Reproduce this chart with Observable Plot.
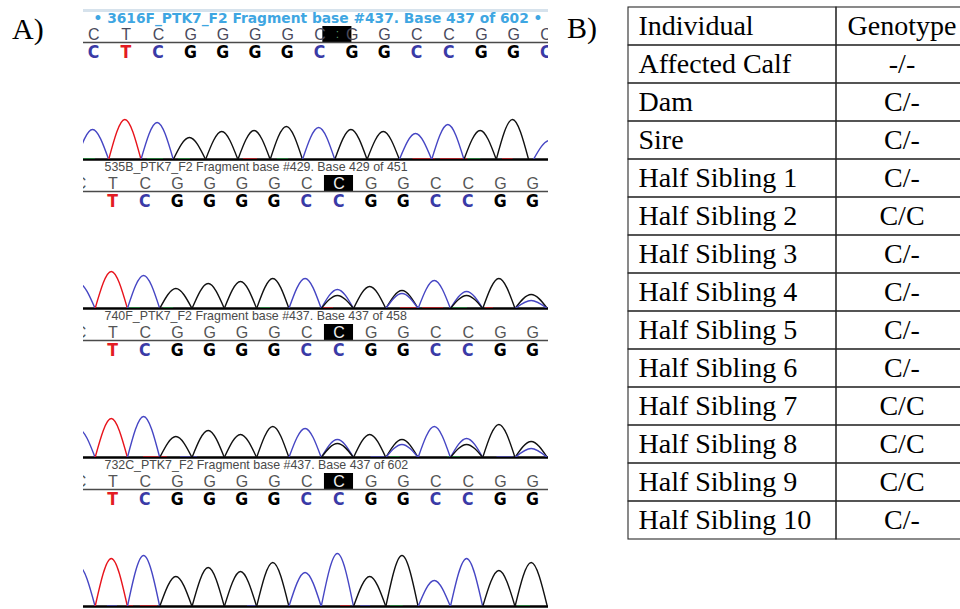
<!DOCTYPE html>
<html><head><meta charset="utf-8">
<script src="https://cdn.jsdelivr.net/npm/d3@7"></script>
<script src="https://cdn.jsdelivr.net/npm/@observablehq/plot@0.6"></script>
<style>
html,body{margin:0;padding:0;background:#fff;width:960px;height:609px;overflow:hidden;position:relative;}
#left{position:absolute;left:0;top:0;width:560px;}
#col1{position:absolute;left:627px;top:4px;width:210px;}
#col2{position:absolute;left:835px;top:4px;width:133px;}
svg{max-width:none !important;}
.lab{position:absolute;font-family:"Liberation Serif","Times New Roman",serif;font-size:30px;line-height:30px;color:#000;}
</style></head><body>
<div id="left"></div>
<div id="col1"></div>
<div id="col2"></div>
<div class="lab" style="left:12px;top:14px">A)</div>
<div class="lab" style="left:567px;top:13px">B)</div>
<script>
// ---------- Panel A data ----------
const samples = ["3616F", "535B", "740F", "732C"];
const fragmentLabels = [
  "\u2022 3616F_PTK7_F2 Fragment base #437. Base 437 of 602 \u2022",
  "535B_PTK7_F2 Fragment base #429. Base 429 of 451",
  "740F_PTK7_F2 Fragment base #437. Base 437 of 458",
  "732C_PTK7_F2 Fragment base #437. Base 437 of 602"
];
const labelStart = [0.31, 0.65, 0.65, 0.65];
// called bases (thin row) and their first position (in base-spacing units)
const calledSeq = ["CTCGGGGCGGCCGGC", "CTCGGGGCCGGCCGG", "CTCGGGGCCGGCCGG", "CTCGGGGCCGGCCGG"];
const calledStart = [0.32, -0.09, -0.09, -0.09];
const calledHighlight = [-1, 8, 8, 8];
// bold coloured base row
const boldSeq = ["CTCGGGGCGGCCGGC", "TCGGGGCCGGCCGG", "TCGGGGCCGGCCGG", "TCGGGGCCGGCCGG"];
const boldStart = [0.31, 0.9, 0.9, 0.9];
// black cursor box centre
const cursorPos = [7.86, 7.91, 7.91, 7.91];
// trace peaks: [base index, channel, height]
const traceStart = [0.28, 0.86, 0.86, 0.86];
const peaks3616F = [[0,"C",30],[1,"T",40],[2,"C",37],[3,"G",22],[4,"G",28],[5,"G",29],[6,"G",33],[7,"C",32],[8,"G",30],[9,"G",28],[10,"C",26],[11,"C",35],[12,"G",29],[13,"G",40],[14.15,"C",19]];
const peaks535B = [[-1,"C",25],[0,"T",37],[1,"C",33],[2,"G",20],[3,"G",25],[4,"G",27],[5,"G",30],[6,"C",30],[7,"C",19],[7,"G",13],[8,"G",22],[9,"G",18],[9,"C",15],[10,"C",28],[11,"C",17],[11,"G",13],[12,"G",30],[13,"G",14],[13,"C",8]];
const peaks740F = [[-1,"C",28],[0,"T",39],[1,"C",41],[2,"G",21],[3,"G",27],[4,"G",23],[5,"G",31],[6,"C",29],[7,"C",18],[7,"G",14],[8,"G",23],[9,"G",18],[9,"C",13],[10,"C",31],[11,"C",19],[11,"G",13],[12,"G",33],[13,"G",16],[13,"C",9]];
const peaks732C = [[-1,"C",40],[0,"T",48],[1,"C",51],[2,"G",30],[3,"G",39],[4,"G",35],[5,"G",44],[6,"C",34],[7,"C",53],[8,"G",30],[9,"G",51],[10,"C",26],[11,"C",48],[12,"G",36],[13,"G",44]];
const peaksBySample = [peaks3616F, peaks535B, peaks740F, peaks732C];
// low-level signal visible on the baseline: [sample, from, to, channel]
const baselineSignal = [
  ["3616F",0,0.37,"A"],["3616F",1.98,2.48,"A"],["3616F",2.94,3.31,"A"],["3616F",4.95,5.39,"T"],["3616F",6.0,6.35,"A"],["3616F",10.2,10.9,"T"],["3616F",11.05,11.9,"T"],["3616F",11.9,12.3,"A"],["3616F",12.97,13.3,"T"],
  ["535B",1.36,1.76,"A"],["535B",2.48,2.79,"A"],["535B",5.48,5.79,"A"],["535B",7.43,7.74,"T"],["535B",9.81,10.34,"T"],["535B",10.5,11.15,"T"],["535B",11.36,11.89,"A"],["535B",12.45,12.69,"T"],
  ["740F",1.86,2.6,"T"],["740F",3.0,3.53,"C"],["740F",8.9,9.4,"C"],["740F",9.5,9.8,"A"],["740F",11.27,11.67,"A"],["740F",12.8,13.3,"C"],
  ["732C",0.74,1.05,"C"],["732C",1.39,1.55,"T"],["732C",1.76,2.29,"T"],["732C",5.08,5.39,"C"],["732C",7.96,8.27,"T"],["732C",8.58,8.89,"C"],["732C",9.5,9.9,"A"],["732C",13.44,13.84,"A"]
];
const traceColor = {A: "#1f9a3c", C: "#4646c4", G: "#111111", T: "#e8141c"};
const letterColor = {A: "#1f9a3c", C: "#3a3aa6", G: "#000000", T: "#e31b23"};

// ---------- Panel B data ----------
const tableHeader = ["Individual", "Genotype"];
const individuals = ["Affected Calf","Dam","Sire","Half Sibling 1","Half Sibling 2","Half Sibling 3","Half Sibling 4","Half Sibling 5","Half Sibling 6","Half Sibling 7","Half Sibling 8","Half Sibling 9","Half Sibling 10"];
const genotypes = ["-/-","C/-","C/-","C/-","C/C","C/-","C/-","C/-","C/-","C/C","C/C","C/C","C/-"];

// ---------- layout constants (y in px above trace baseline, facet height 149) ----------
const FACET_H = 149;
const ROW = {label: 141, called: 125, rule: 117, bold: 107, boxLo: 117, boxHi: 133};
const X_MAX = 465 / 32.3;

// ---------- build tables ----------
const arches = [];
peaksBySample.forEach((list, s) => list.forEach(([i, ch, h], k) => {
  const c = traceStart[s] + i, id = s + "-" + k, col = traceColor[ch];
  arches.push({sample: samples[s], id, col, x: c - 0.5, y: 0},
              {sample: samples[s], id, col, x: c, y: h},
              {sample: samples[s], id, col, x: c + 0.5, y: 0});
}));
const called = samples.flatMap((s, si) => [...calledSeq[si]].map((b, i) => ({
  sample: s, x: calledStart[si] + i, base: b,
  fill: i === calledHighlight[si] ? "#eeeeee" : (si === 0 ? "#4a4a5c" : "#555555")})));
const bold = samples.flatMap((s, si) => [...boldSeq[si]].map((b, i) => ({
  sample: s, x: boldStart[si] + i, base: b, fill: letterColor[b]})));
const cursors = samples.map((s, si) => ({sample: s, x1: cursorPos[si] - 0.45, x2: cursorPos[si] + 0.45}));
const labelRows = samples.map((s, si) => ({sample: s, x: labelStart[si], text: fragmentLabels[si]}));
const noise = baselineSignal.map(([sample, x1, x2, ch]) => ({sample, x1, x2, col: traceColor[ch]}));

const left = Plot.plot({
  width: 560, height: 609,
  marginLeft: 83, marginRight: 12, marginTop: 10, marginBottom: 3,
  style: {background: "transparent", overflow: "visible", maxWidth: "none"},
  x: {domain: [0, X_MAX], axis: null},
  y: {domain: [0, FACET_H], axis: null},
  fy: {domain: samples, padding: 0, axis: null},
  color: {type: "identity"},
  marks: [
    Plot.ruleY(labelRows.slice(0, 1), {y: FACET_H, fy: "sample", stroke: "#d6e2ec", strokeWidth: 3}),
    Plot.text(labelRows.slice(0, 1), {x: "x", y: ROW.label - 0.5, fy: "sample", text: "text", textAnchor: "start",
      fill: "#3ea6e2", fontSize: 13.8, fontWeight: "bold", fontFamily: "DejaVu Sans, Verdana, sans-serif", clip: true}),
    Plot.text(labelRows.slice(1), {x: "x", y: ROW.label, fy: "sample", text: "text", textAnchor: "start",
      fill: "#4a4a4a", fontSize: 12.4, fontFamily: "Liberation Sans, Arial, sans-serif", clip: true}),
    Plot.rect(cursors, {x1: "x1", x2: "x2", y1: ROW.boxLo, y2: ROW.boxHi, fy: "sample", fill: "#000"}),
    Plot.text(called, {x: "x", y: ROW.called, fy: "sample", text: "base", fill: "fill",
      fontSize: 16, fontFamily: "Liberation Sans, Arial, sans-serif", clip: true}),
    Plot.text(cursors.slice(0, 1), {x: d => (d.x1 + d.x2) / 2, y: ROW.called, fy: "sample", text: () => ":", fill: "#5a9a6a", fontSize: 12, fontFamily: "Liberation Sans, Arial, sans-serif"}),
    Plot.ruleY([ROW.rule], {stroke: "#4a4a4a", strokeWidth: 1.6}),
    Plot.text(bold, {x: "x", y: ROW.bold, fy: "sample", text: "base", fill: "fill",
      fontSize: 17.5, fontWeight: "bold", fontFamily: "Liberation Sans Narrow, DejaVu Sans Condensed, Arial Narrow, sans-serif", clip: true}),
    Plot.ruleY([0], {stroke: "#000", strokeWidth: 2.6}),
    Plot.ruleY(noise, {y: 0, x1: "x1", x2: "x2", fy: "sample", stroke: "col", strokeWidth: 2.2, clip: true}),
    Plot.line(arches, {x: "x", y: "y", z: "id", fy: "sample", stroke: "col", curve: "natural", strokeWidth: 1.4, clip: true})
  ]
});
document.getElementById("left").appendChild(left);

// ---------- Panel B table ----------
const tableRows = [{row: 0, name: tableHeader[0], g: tableHeader[1]}]
  .concat(individuals.map((n, i) => ({row: i + 1, name: n, g: genotypes[i]})));
const rowIdx = tableRows.map(d => d.row);
function column(width, textKey, leftAlign) {
  return Plot.plot({
    width, height: 538, marginLeft: 1, marginRight: 1, marginTop: 1, marginBottom: 1,
    style: {background: "transparent", overflow: "visible", maxWidth: "none"},
    y: {type: "band", domain: rowIdx, padding: 0, axis: null},
    marks: [
      Plot.cell(tableRows, {y: "row", fill: "none", stroke: "#2a2a2a", strokeWidth: 1.1}),
      Plot.text(tableRows, {y: "row", text: textKey, fontSize: 28, fill: "#000",
        fontFamily: "Liberation Serif, Times New Roman, serif",
        frameAnchor: leftAlign ? "left" : "middle", textAnchor: leftAlign ? "start" : "middle", dx: leftAlign ? 10 : 0})
    ]
  });
}
document.getElementById("col1").appendChild(column(210, "name", true));
document.getElementById("col2").appendChild(column(133, "g", false));
</script>
</body></html>
